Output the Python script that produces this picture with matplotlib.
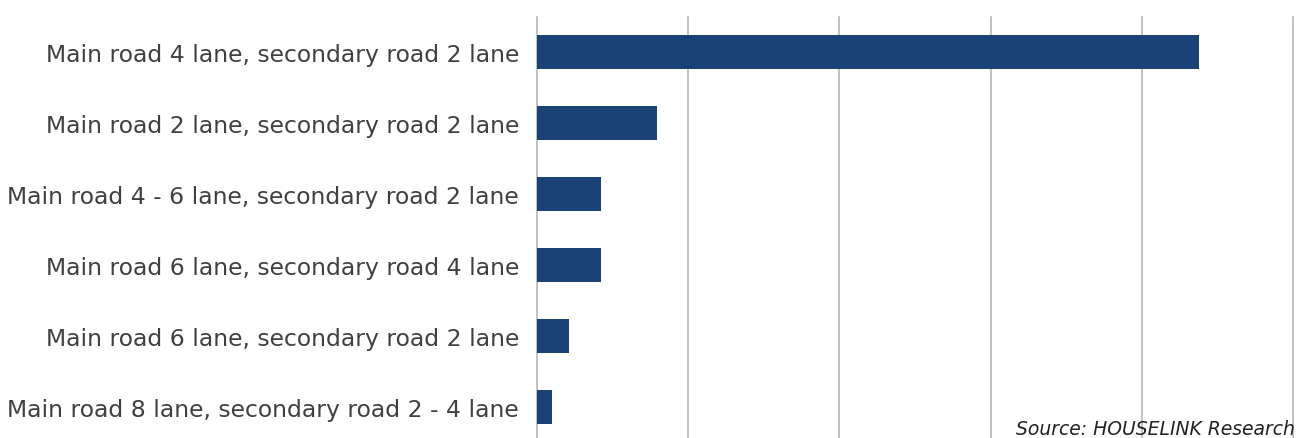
import matplotlib as mpl
mpl.use('Agg')
import matplotlib.pyplot as plt

# Road configurations and their counts
categories = [
    "Main road 4 lane, secondary road 2 lane",
    "Main road 2 lane, secondary road 2 lane",
    "Main road 4 - 6 lane, secondary road 2 lane",
    "Main road 6 lane, secondary road 4 lane",
    "Main road 6 lane, secondary road 2 lane",
    "Main road 8 lane, secondary road 2 - 4 lane",
]
values = [43.8, 7.9, 4.2, 4.25, 2.1, 1.0]
grid_ticks = [0, 10, 20, 30, 40, 50]

bar_color = "#1B4276"
text_color = "#404040"

fig = plt.figure(figsize=(12.96, 4.39), dpi=100)
ax = fig.add_axes([0.4144, -0.0103, 0.5833, 0.9704])

ypos = list(range(len(categories)))
ax.barh(ypos, values, height=0.48, color=bar_color, zorder=3)
ax.set_ylim(len(categories) - 0.5, -0.5)
ax.set_xlim(0, 50)

ax.set_xticks(grid_ticks)
ax.set_xticklabels([])
ax.tick_params(axis='x', length=0)
ax.grid(axis='x', color="#b0b0b0", linewidth=1.1, zorder=0)
for gl in ax.get_xgridlines():
    gl.set_clip_on(False)

ax.set_yticks(ypos)
ax.set_yticklabels(categories, fontsize=16.9, color=text_color, family="DejaVu Sans")
ax.tick_params(axis='y', length=0, pad=13)

for side in ["top", "right", "bottom", "left"]:
    ax.spines[side].set_visible(False)

fig.text(0.999, 0.001, "Source: HOUSELINK Research", fontsize=13.5, style="italic",
         color="#222222", ha="right", va="bottom")

fig.savefig("out.png", dpi=100)
